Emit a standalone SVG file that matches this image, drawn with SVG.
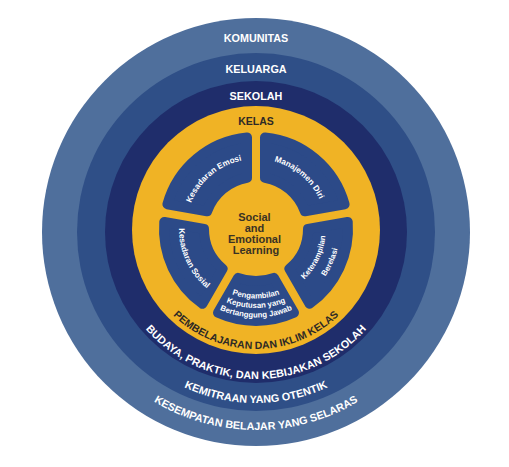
<svg xmlns="http://www.w3.org/2000/svg" width="509" height="467" viewBox="0 0 509 467">
  <style>
    .ring-label { font-family: "Liberation Sans", Arial, sans-serif; font-weight: 700; font-size: 10.8px; fill: #ffffff; }
    .ring-label-dark { font-family: "Liberation Sans", Arial, sans-serif; font-weight: 700; font-size: 10.5px; fill: #2e2a26; }
    .seg { fill: #2c4a88; stroke: #2c4a88; stroke-width: 10; stroke-linejoin: round; }
    .seg-label { font-family: "Liberation Sans", Arial, sans-serif; font-weight: 700; font-size: 8.2px; fill: #ffffff; }
    .seg-label-sm { font-family: "Liberation Sans", Arial, sans-serif; font-weight: 700; font-size: 7.8px; fill: #ffffff; }
    .hub-label { font-family: "Liberation Sans", Arial, sans-serif; font-weight: 700; font-size: 11px; fill: #3a3224; }
  </style>
  <defs>
    <path id="arc-pembelajaran" d="M138.81 250.66 A119 119 0 0 0 373.19 250.66"/>
    <path id="arc-budaya" d="M111.23 257.53 A147 147 0 0 0 400.77 257.53"/>
    <path id="arc-kemitraan" d="M87.60 261.69 A171 171 0 0 0 424.40 261.69"/>
    <path id="arc-kesempatan" d="M61.01 266.38 A198 198 0 0 0 450.99 266.38"/>
    <path id="arc-emosi" d="M186 229 A70 70 0 0 1 268.16 160.06"/>
    <path id="arc-manajemen" d="M243.84 160.06 A70 70 0 0 1 326 229"/>
    <path id="arc-sosial" d="M186.21 196.46 A77 77 0 0 0 236.07 303.38"/>
    <path id="arc-keterampilan" d="M273.15 296.92 A70 70 0 0 0 319.62 200.53"/>
    <path id="arc-berelasi" d="M279.15 309.75 A84 84 0 0 0 331.50 192.17"/>
    <path id="arc-peng1" d="M211.32 282.24 A69.5 69.5 0 0 0 300.68 282.24"/>
    <path id="arc-peng2" d="M205.22 289.51 A79 79 0 0 0 306.78 289.51"/>
    <path id="arc-peng3" d="M199.11 296.79 A88.5 88.5 0 0 0 312.89 296.79"/>
  </defs>

  <rect width="509" height="467" fill="#ffffff"/>

  <g id="ring-komunitas">
    <circle cx="256" cy="232" r="214" fill="#4f6f9c"/>
    <text class="ring-label" x="256" y="42" text-anchor="middle">KOMUNITAS</text>
    <text class="ring-label"><textPath href="#arc-kesempatan" startOffset="50%" text-anchor="middle">KESEMPATAN BELAJAR YANG SELARAS</textPath></text>
  </g>

  <g id="ring-keluarga">
    <circle cx="256" cy="232" r="179" fill="#2f4f87"/>
    <text class="ring-label" x="256" y="73" text-anchor="middle">KELUARGA</text>
    <text class="ring-label"><textPath href="#arc-kemitraan" startOffset="50%" text-anchor="middle">KEMITRAAN YANG OTENTIK</textPath></text>
  </g>

  <g id="ring-sekolah">
    <circle cx="256" cy="232" r="151" fill="#1f2d6b"/>
    <text class="ring-label" x="256" y="100" text-anchor="middle">SEKOLAH</text>
    <text class="ring-label"><textPath href="#arc-budaya" startOffset="50%" text-anchor="middle">BUDAYA, PRAKTIK, DAN KEBIJAKAN SEKOLAH</textPath></text>
  </g>

  <g id="ring-kelas">
    <circle cx="256" cy="230" r="124" fill="#f0b325"/>
    <text class="ring-label-dark" x="256" y="125" text-anchor="middle">KELAS</text>
    <text class="ring-label-dark"><textPath href="#arc-pembelajaran" startOffset="50%" text-anchor="middle">PEMBELAJARAN DAN IKLIM KELAS</textPath></text>
  </g>

  <g id="seg-kesadaran-emosi">
    <path class="seg" d="M167.39 204.24 A92 92 0 0 1 247.00 137.44 L247.00 177.78 A52 52 0 0 0 207.13 211.24 Z"/>
    <text class="seg-label"><textPath href="#arc-emosi" startOffset="50%" text-anchor="middle">Kesadaran Emosi</textPath></text>
  </g>

  <g id="seg-manajemen-diri">
    <path class="seg" d="M265.00 137.44 A92 92 0 0 1 344.61 204.24 L304.87 211.24 A52 52 0 0 0 265.00 177.78 Z"/>
    <text class="seg-label"><textPath href="#arc-manajemen" startOffset="50%" text-anchor="middle">Manajemen Diri</textPath></text>
  </g>

  <g id="seg-keterampilan-berelasi">
    <path class="seg" d="M347.73 221.96 A92 92 0 0 1 309.57 303.80 L289.40 268.85 A52 52 0 0 0 308.00 228.97 Z"/>
    <text class="seg-label-sm"><textPath href="#arc-keterampilan" startOffset="50%" text-anchor="middle">Keterampilan</textPath></text>
    <text class="seg-label-sm"><textPath href="#arc-berelasi" startOffset="50%" text-anchor="middle">Berelasi</textPath></text>
  </g>

  <g id="seg-pengambilan-keputusan">
    <path class="seg" d="M293.99 312.79 A92 92 0 0 1 218.01 312.79 L238.19 277.85 A52 52 0 0 0 273.81 277.85 Z"/>
    <text class="seg-label-sm"><textPath href="#arc-peng1" startOffset="50%" text-anchor="middle">Pengambilan</textPath></text>
    <text class="seg-label-sm"><textPath href="#arc-peng2" startOffset="50%" text-anchor="middle">Keputusan yang</textPath></text>
    <text class="seg-label-sm"><textPath href="#arc-peng3" startOffset="50%" text-anchor="middle">Bertanggung Jawab</textPath></text>
  </g>

  <g id="seg-kesadaran-sosial">
    <path class="seg" d="M202.43 303.80 A92 92 0 0 1 164.27 221.96 L204.00 229.03 A52 52 0 0 0 222.60 268.85 Z"/>
    <text class="seg-label"><textPath href="#arc-sosial" startOffset="50%" text-anchor="middle">Kesadaran Sosial</textPath></text>
  </g>

  <g id="hub-sel">
    <text class="hub-label" text-anchor="middle">
      <tspan x="256" y="221">Social</tspan>
      <tspan x="256" y="232">and</tspan>
      <tspan x="256" y="243">Emotional</tspan>
      <tspan x="256" y="254">Learning</tspan>
    </text>
  </g>

  <g id="connectors"/>
</svg>
